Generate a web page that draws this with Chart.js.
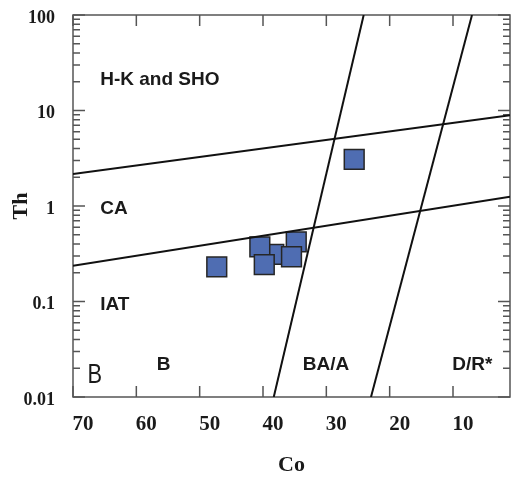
<!DOCTYPE html>
<html>
<head>
<meta charset="utf-8">
<script src="https://cdn.jsdelivr.net/npm/chart.js@4/dist/chart.umd.min.js"></script>
<style>
  html, body { margin: 0; padding: 0; background: #fff; }
  canvas { display: block; }
</style>
</head>
<body>
<canvas id="coThChart" width="511" height="479"></canvas>
<script>
// samples (Co ppm, Th ppm)
const coValues = [25.6, 47.3, 38.3, 40.5, 34.75, 39.8, 35.5];
const thValues = [3.08, 0.23, 0.312, 0.374, 0.422, 0.243, 0.294];

// axis ticks
const coTicks = [70, 60, 50, 40, 30, 20, 10];
const thTicks = [0.01, 0.1, 1, 10, 100];
const thTickLabels = ['0.01', '0.1', '1', '10', '100'];

// field boundaries (end points in Co / Th)
const upperLineCo = [70, 1];
const upperLineTh = [2.16, 8.93];
const lowerLineCo = [70, 1];
const lowerLineTh = [0.237, 1.25];
const leftLineCo = [38.3, 24.1];
const leftLineTh = [0.01, 100];
const rightLineCo = [22.95, 7.0];
const rightLineTh = [0.01, 100];

// field names
const fieldNames = ['H-K and SHO', 'CA', 'IAT', 'B', 'BA/A', 'D/R*'];
const fieldCo = [65.7, 65.7, 65.7, 55.7, 30.05, 6.96];
const fieldTh = [21.2, 0.94, 0.093, 0.0217, 0.0217, 0.0217];

const toPoints = (xs, ys) => xs.map((x, i) => ({ x: x, y: ys[i] }));

const lineStyle = {
    type: 'line',
    showLine: true,
    borderColor: '#111',
    borderWidth: 2,
    pointRadius: 0,
    fill: false
};

// frame and inward tick marks
const framePlugin = {
    id: 'frame',
    beforeDatasetsDraw(chart) {
        const { ctx, chartArea: a, scales } = chart;
        ctx.save();
        ctx.strokeStyle = '#555';
        ctx.lineWidth = 1.5;
        ctx.strokeRect(a.left, a.top, a.right - a.left, a.bottom - a.top);

        ctx.beginPath();
        coTicks.forEach(v => {
            const px = scales.x.getPixelForValue(v);
            ctx.moveTo(px, a.bottom); ctx.lineTo(px, a.bottom - 11);
            ctx.moveTo(px, a.top); ctx.lineTo(px, a.top + 11);
        });
        for (let d = -2; d <= 1; d++) {
            for (let m = 1; m <= 9; m++) {
                const py = scales.y.getPixelForValue(m * Math.pow(10, d));
                const len = m === 1 ? 12 : 7;
                ctx.moveTo(a.left, py); ctx.lineTo(a.left + len, py);
                ctx.moveTo(a.right, py); ctx.lineTo(a.right - len, py);
            }
        }
        const topPy = scales.y.getPixelForValue(100);
        ctx.moveTo(a.left, topPy); ctx.lineTo(a.left + 12, topPy);
        ctx.moveTo(a.right, topPy); ctx.lineTo(a.right - 12, topPy);
        ctx.stroke();
        ctx.restore();
    },
    afterDraw(chart) {
        const { ctx, scales } = chart;
        ctx.save();
        ctx.fillStyle = '#1a1a1a';
        ctx.textBaseline = 'middle';
        fieldNames.forEach((name, i) => {
            const px = scales.x.getPixelForValue(fieldCo[i]);
            const py = scales.y.getPixelForValue(fieldTh[i]);
            ctx.font = 'bold 19px "Liberation Sans", Arial, sans-serif';
            ctx.textAlign = i < 3 ? 'left' : 'center';
            ctx.fillText(name, px, py);
        });
        // panel letter
        const bx = scales.x.getPixelForValue(67.7);
        const by = scales.y.getPixelForValue(0.017);
        ctx.translate(bx, by);
        ctx.scale(0.78, 1);
        ctx.font = '28px "Liberation Sans", Arial, sans-serif';
        ctx.textAlign = 'left';
        ctx.fillText('B', 0, 0);
        ctx.restore();
    }
};

const ctx = document.getElementById('coThChart').getContext('2d');
const coThChart = new Chart(ctx, {
    type: 'scatter',
    data: {
        datasets: [
            Object.assign({ data: toPoints(upperLineCo, upperLineTh) }, lineStyle),
            Object.assign({ data: toPoints(lowerLineCo, lowerLineTh) }, lineStyle),
            Object.assign({ data: toPoints(leftLineCo, leftLineTh) }, lineStyle),
            Object.assign({ data: toPoints(rightLineCo, rightLineTh) }, lineStyle),
            {
                data: toPoints(coValues, thValues),
                pointStyle: 'rect',
                pointRadius: 14,
                pointHoverRadius: 14,
                backgroundColor: '#4f6db2',
                borderColor: '#262626',
                borderWidth: 1.5
            }
        ]
    },
    options: {
        responsive: false,
        animation: false,
        events: [],
        layout: { autoPadding: false, padding: { top: 15, right: 1, left: 0, bottom: 0 } },
        plugins: {
            legend: { display: false },
            tooltip: { enabled: false }
        },
        scales: {
            x: {
                type: 'linear',
                reverse: true,
                min: 1,
                max: 70,
                afterBuildTicks: s => { s.ticks = coTicks.map(v => ({ value: v })); },
                afterFit: s => {
                    s.height = 82;
                    s.paddingLeft = 0;
                    s.paddingRight = 0;
                },
                grid: { display: false, drawTicks: false },
                border: { display: false },
                ticks: {
                    font: { family: 'Liberation Serif', size: 21, weight: 'bold' },
                    color: '#1a1a1a',
                    padding: 15,
                    labelOffset: 10,
                    maxRotation: 0,
                    autoSkip: false
                },
                title: {
                    display: true,
                    text: 'Co',
                    font: { family: 'Liberation Serif', size: 22, weight: 'bold' },
                    color: '#1a1a1a',
                    padding: { top: 0, bottom: 0 }
                }
            },
            y: {
                type: 'logarithmic',
                min: 0.01,
                max: 100,
                afterBuildTicks: s => { s.ticks = thTicks.map(v => ({ value: v })); },
                afterFit: s => {
                    s.width = 73;
                    s.paddingTop = 0;
                    s.paddingBottom = 0;
                },
                grid: { display: false, drawTicks: false },
                border: { display: false },
                ticks: {
                    font: { family: 'Liberation Serif', size: 18, weight: 'bold' },
                    color: '#1a1a1a',
                    padding: 18,
                    labelOffset: 3,
                    autoSkip: false,
                    callback: (value, index) => thTickLabels[index]
                },
                title: {
                    display: true,
                    text: 'Th',
                    font: { family: 'Liberation Serif', size: 22, weight: 'bold' },
                    color: '#1a1a1a',
                    padding: { top: 8, bottom: 0 }
                }
            }
        }
    },
    plugins: [framePlugin]
});
</script>
</body>
</html>
